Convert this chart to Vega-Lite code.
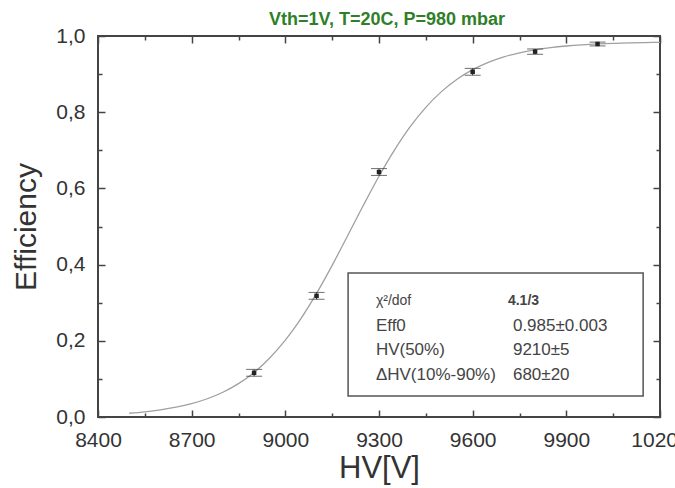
{
  "$schema": "https://vega.github.io/schema/vega-lite/v6.json",
  "autosize": "none",
  "width": 562,
  "height": 381,
  "padding": {"left": 98, "top": 36, "right": 15, "bottom": 71},
  "background": "white",
  "title": {
    "text": "Vth=1V, T=20C, P=980 mbar",
    "font": "Liberation Sans",
    "fontSize": 18,
    "fontWeight": "bold",
    "color": "#2f7f2a",
    "anchor": "middle",
    "dx": 8,
    "dy": 14,
    "offset": 10
  },
  "config": {
    "view": {"stroke": "#444", "strokeWidth": 2},
    "font": "Liberation Sans",
    "axis": {
      "labelFont": "Liberation Sans",
      "titleFont": "Liberation Sans",
      "labelColor": "#333",
      "titleColor": "#333",
      "tickColor": "#444",
      "tickWidth": 1.5,
      "grid": false,
      "domain": false
    }
  },
  "datasets": {
    "fit": [
      {"hv": 8500, "eff": 0.0099},
      {"hv": 8550, "eff": 0.0136},
      {"hv": 8600, "eff": 0.0187},
      {"hv": 8650, "eff": 0.0257},
      {"hv": 8700, "eff": 0.0352},
      {"hv": 8750, "eff": 0.0479},
      {"hv": 8800, "eff": 0.0650},
      {"hv": 8850, "eff": 0.0876},
      {"hv": 8900, "eff": 0.1170},
      {"hv": 8950, "eff": 0.1550},
      {"hv": 9000, "eff": 0.2016},
      {"hv": 9050, "eff": 0.2583},
      {"hv": 9100, "eff": 0.3244},
      {"hv": 9150, "eff": 0.3980},
      {"hv": 9200, "eff": 0.4765},
      {"hv": 9250, "eff": 0.5558},
      {"hv": 9300, "eff": 0.6320},
      {"hv": 9350, "eff": 0.7013},
      {"hv": 9400, "eff": 0.7620},
      {"hv": 9450, "eff": 0.8127},
      {"hv": 9500, "eff": 0.8540},
      {"hv": 9550, "eff": 0.8866},
      {"hv": 9600, "eff": 0.9117},
      {"hv": 9650, "eff": 0.9308},
      {"hv": 9700, "eff": 0.9452},
      {"hv": 9750, "eff": 0.9559},
      {"hv": 9800, "eff": 0.9637},
      {"hv": 9850, "eff": 0.9695},
      {"hv": 9900, "eff": 0.9737},
      {"hv": 9950, "eff": 0.9768},
      {"hv": 10000, "eff": 0.9791},
      {"hv": 10050, "eff": 0.9807},
      {"hv": 10100, "eff": 0.9819},
      {"hv": 10150, "eff": 0.9827},
      {"hv": 10200, "eff": 0.9834}
    ],
    "measured": [
      {"hv": 8900, "eff": 0.116, "lo": 0.107, "hi": 0.125},
      {"hv": 9100, "eff": 0.318, "lo": 0.309, "hi": 0.327},
      {"hv": 9300, "eff": 0.643, "lo": 0.634, "hi": 0.652},
      {"hv": 9600, "eff": 0.906, "lo": 0.897, "hi": 0.915},
      {"hv": 9800, "eff": 0.959, "lo": 0.952, "hi": 0.966},
      {"hv": 10000, "eff": 0.979, "lo": 0.974, "hi": 0.984}
    ]
  },
  "layer": [
    {
      "data": {"name": "fit"},
      "mark": {"type": "line", "color": "#a0a0a0", "strokeWidth": 1.3, "interpolate": "monotone"},
      "encoding": {
        "x": {
          "field": "hv", "type": "quantitative",
          "scale": {"domain": [8400, 10200], "nice": false, "zero": false},
          "axis": {
            "orient": "bottom", "ticks": false, "format": "d",
            "values": [8400, 8700, 9000, 9300, 9600, 9900, 10200],
            "labelFontSize": 21, "labelPadding": 12, "labelFlush": false, "labelOverlap": false,
            "title": "HV[V]", "titleFontSize": 31, "titleFontWeight": "normal", "titlePadding": 3
          }
        },
        "y": {
          "field": "eff", "type": "quantitative",
          "scale": {"domain": [0, 1], "nice": false, "zero": false},
          "axis": {
            "orient": "left", "ticks": false,
            "values": [0, 0.2, 0.4, 0.6, 0.8, 1.0],
            "labelExpr": "replace(format(datum.value, '.1f'), '.', ',')",
            "labelFontSize": 21, "labelPadding": 13, "labelFlush": false, "labelOverlap": false,
            "title": "Efficiency", "titleFontSize": 30, "titleFontWeight": "normal", "titlePadding": 14
          }
        }
      }
    },
    {
      "data": {"name": "measured"},
      "mark": {"type": "errorbar", "color": "#333", "thickness": 1, "ticks": {"size": 16, "color": "#333", "thickness": 1}},
      "encoding": {
        "x": {
          "field": "hv", "type": "quantitative",
          "axis": {
            "orient": "bottom", "labels": false, "title": null,
            "values": [8400, 8550, 8700, 8850, 9000, 9150, 9300, 9450, 9600, 9750, 9900, 10050, 10200],
            "tickSize": {"condition": {"test": "datum.value % 300 === 0", "value": -7}, "value": -4}
          }
        },
        "y": {
          "field": "lo", "type": "quantitative", "title": "Efficiency",
          "axis": {
            "orient": "left", "labels": false, "title": null,
            "values": [0, 0.1, 0.2, 0.3, 0.4, 0.5, 0.6, 0.7, 0.8, 0.9, 1.0],
            "tickSize": {"condition": {"test": "round(datum.value * 10) % 2 === 0", "value": -7}, "value": -4}
          }
        },
        "y2": {"field": "hi"}
      }
    },
    {
      "data": {"name": "measured"},
      "mark": {"type": "square", "color": "#222", "size": 20, "opacity": 1},
      "encoding": {
        "x": {
          "field": "hv", "type": "quantitative",
          "axis": {
            "orient": "top", "labels": false, "title": null,
            "values": [8400, 8550, 8700, 8850, 9000, 9150, 9300, 9450, 9600, 9750, 9900, 10050, 10200],
            "tickSize": {"condition": {"test": "datum.value % 300 === 0", "value": -7}, "value": -4}
          }
        },
        "y": {
          "field": "eff", "type": "quantitative",
          "axis": {
            "orient": "right", "labels": false, "title": null,
            "values": [0, 0.1, 0.2, 0.3, 0.4, 0.5, 0.6, 0.7, 0.8, 0.9, 1.0],
            "tickSize": {"condition": {"test": "round(datum.value * 10) % 2 === 0", "value": -7}, "value": -4}
          }
        }
      }
    },
    {
      "data": {"values": [{}]},
      "mark": {"type": "rect", "fill": "white", "stroke": "#555", "strokeWidth": 1.5},
      "encoding": {
        "x": {"datum": 9201, "type": "quantitative", "axis": null},
        "x2": {"datum": 10146},
        "y": {"datum": 0.378, "type": "quantitative", "axis": null},
        "y2": {"datum": 0.055}
      }
    },
    {
      "data": {"values": [{}]},
      "mark": {"type": "text", "text": "χ²/dof", "align": "left", "baseline": "alphabetic", "fontSize": 14, "color": "#444"},
      "encoding": {
        "x": {"datum": 9290, "type": "quantitative", "axis": null},
        "y": {"datum": 0.294, "type": "quantitative", "axis": null}
      }
    },
    {
      "data": {"values": [{}]},
      "mark": {"type": "text", "text": "4.1/3", "align": "left", "baseline": "alphabetic", "fontSize": 14, "fontWeight": "bold", "color": "#444"},
      "encoding": {
        "x": {"datum": 9713, "type": "quantitative", "axis": null},
        "y": {"datum": 0.294, "type": "quantitative", "axis": null}
      }
    },
    {
      "data": {"values": [{}]},
      "mark": {"type": "text", "text": ["Eff0", "HV(50%)", "ΔHV(10%-90%)"], "align": "left", "baseline": "alphabetic", "fontSize": 17, "lineHeight": 24.5, "color": "#444"},
      "encoding": {
        "x": {"datum": 9290, "type": "quantitative", "axis": null},
        "y": {"datum": 0.226, "type": "quantitative", "axis": null}
      }
    },
    {
      "data": {"values": [{}]},
      "mark": {"type": "text", "text": ["0.985±0.003", "9210±5", "680±20"], "align": "left", "baseline": "alphabetic", "fontSize": 17, "lineHeight": 24.5, "color": "#444"},
      "encoding": {
        "x": {"datum": 9729, "type": "quantitative", "axis": null},
        "y": {"datum": 0.226, "type": "quantitative", "axis": null}
      }
    }
  ],
  "resolve": {"axis": {"x": "independent", "y": "independent"}}
}
